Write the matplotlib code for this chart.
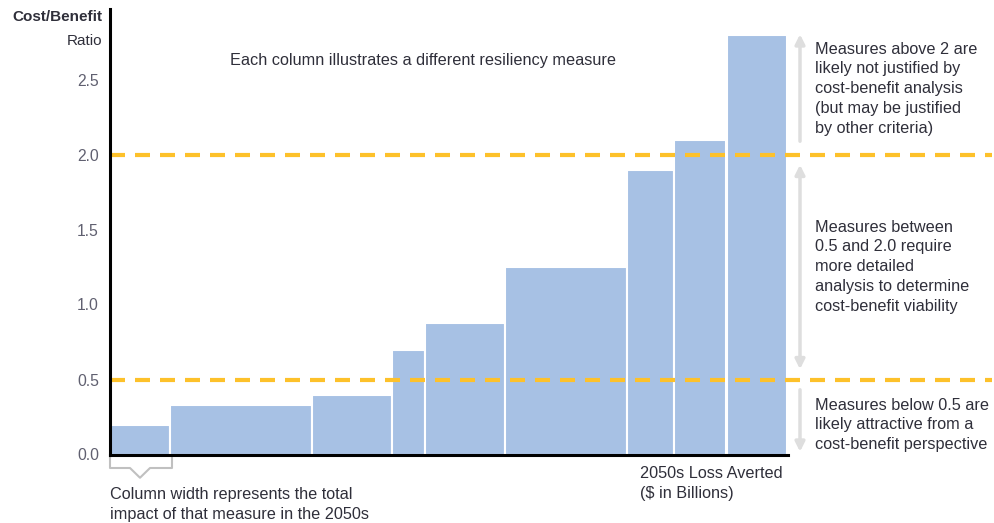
import numpy as np
import matplotlib.pyplot as plt
from matplotlib.patches import FancyArrowPatch

plt.rcParams['font.family'] = ['Liberation Sans', 'DejaVu Sans']

# cost/benefit ratio per resiliency measure, and column widths (loss averted)
ratios = [0.20, 0.33, 0.40, 0.70, 0.88, 1.25, 1.90, 2.10, 2.80]
widths = [6.0, 14.2, 8.0, 3.3, 8.0, 12.2, 4.75, 5.2, 6.05]
thresholds = [0.5, 2.0]
yticks = [0.0, 0.5, 1.0, 1.5, 2.0, 2.5]

bar_color = '#a7c1e4'
gold = '#fdc12a'
arrow_gray = '#dedede'
text_col = '#2f2f3a'
tick_col = '#606070'

W, H = 995, 523
fig = plt.figure(figsize=(W / 100, H / 100), dpi=100)
x0, y0, ytop, xright = 110, 454.5, 9, 992
ax = fig.add_axes([x0 / W, (H - y0) / H, (xright - x0) / W, (y0 - ytop) / H])
ax.set_xlim(0, (xright - x0) / 10)
ax.set_ylim(0, (y0 - ytop) / 150)

lefts = np.concatenate([[0], np.cumsum(widths)[:-1]])
ax.bar(lefts, ratios, width=widths, align='edge', color=bar_color,
       edgecolor='white', linewidth=1.5, zorder=2)

for t in thresholds:
    ax.axhline(t, color=gold, lw=3, dashes=(3.6, 2.4), zorder=3)

for s in ['top', 'right']:
    ax.spines[s].set_visible(False)
for s in ['left', 'bottom']:
    ax.spines[s].set_linewidth(2.2)
    ax.spines[s].set_zorder(4)
ax.spines['bottom'].set_bounds(0, sum(widths) + 0.1)

ax.set_xticks([])
ax.set_yticks(yticks)
ax.set_yticklabels([f'{v:.1f}' for v in yticks], color=tick_col, fontsize=11.3)
ax.tick_params(axis='y', length=0, pad=8)

# y-axis title
fig.text(102 / W, 1 - 17 / H, 'Cost/Benefit', ha='right', va='center',
         fontsize=11, fontweight='bold', color=text_col)
fig.text(102 / W, 1 - 41 / H, 'Ratio', ha='right', va='center',
         fontsize=11, color=text_col)

fig.text(423 / W, 1 - 60 / H, 'Each column illustrates a different resiliency measure',
         ha='center', va='center', fontsize=11.7, color=text_col)

# range arrows on the right
ax_x = 69.0
def arrow(y_a, y_b, style):
    p = FancyArrowPatch((ax_x, y_a), (ax_x, y_b), arrowstyle=style, color=arrow_gray,
                        lw=2.5, mutation_scale=14, clip_on=False, zorder=1)
    ax.add_patch(p)

arrow(2.07, 2.82, '-|>')
arrow(0.55, 1.95, '<|-|>')
arrow(0.45, 0.0, '-|>')

side_kw = dict(ha='left', va='top', fontsize=11.7, color=text_col, linespacing=1.41)
fig.text(815 / W, 1 - 41.5 / H, 'Measures above 2 are\nlikely not justified by\n'
         'cost-benefit analysis\n(but may be justified\nby other criteria)', **side_kw)
fig.text(815 / W, 1 - 219.5 / H, 'Measures between\n0.5 and 2.0 require\nmore detailed\n'
         'analysis to determine\ncost-benefit viability', **side_kw)
fig.text(815 / W, 1 - 397.5 / H, 'Measures below 0.5 are\nlikely attractive from a\n'
         'cost-benefit perspective', **side_kw)

fig.text(640 / W, 1 - 466.5 / H, '2050s Loss Averted\n($ in Billions)', **side_kw)
fig.text(110 / W, 1 - 487.5 / H, 'Column width represents the total\n'
         'impact of that measure in the 2050s', **side_kw)

# bracket under the first column
bx = [0.0, 0.0, 2.0, 3.0, 4.0, 6.2, 6.2]
by = [-0.01, -0.09, -0.09, -0.155, -0.09, -0.09, -0.01]
ax.plot(bx, by, color='#c0c0c0', lw=1.5, clip_on=False, zorder=1)

fig.savefig('out.png', dpi=100)
